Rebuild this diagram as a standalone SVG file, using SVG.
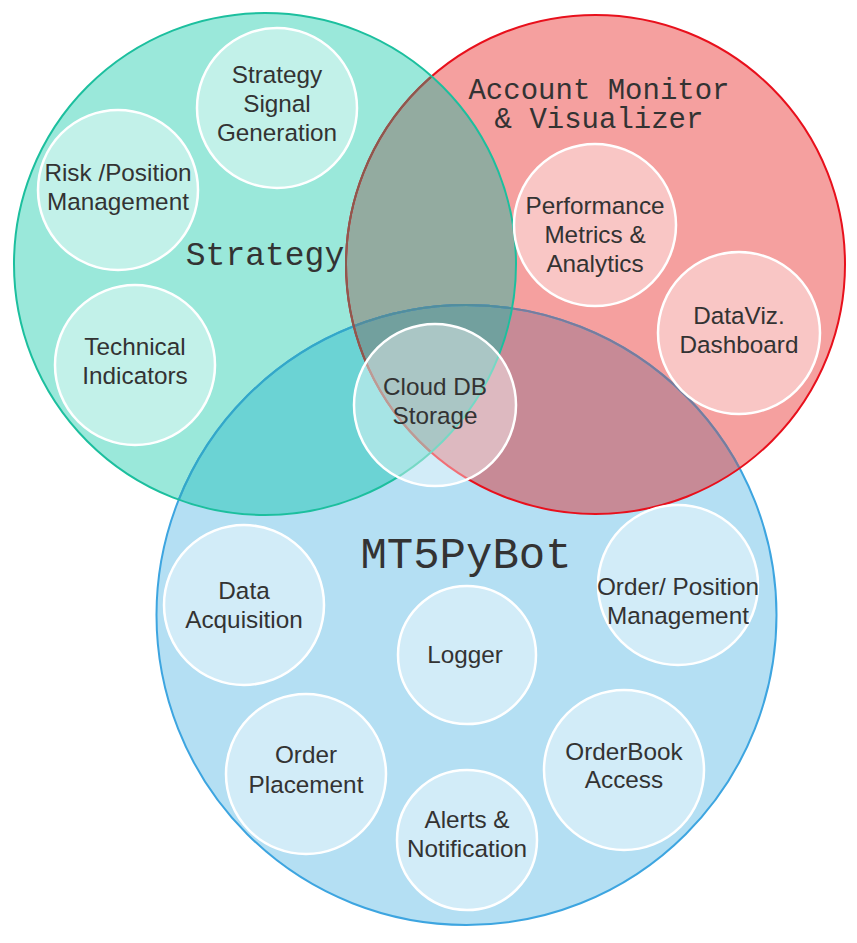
<svg xmlns="http://www.w3.org/2000/svg" width="857" height="943" viewBox="0 0 857 943">
<style>
.lbl{font-family:"Liberation Sans",Arial,sans-serif;font-size:24.3px;fill:#333333;text-anchor:middle}
.ttl{font-family:"Liberation Mono","Courier New",monospace;fill:#333333;text-anchor:middle}
.sub{fill:#ffffff;fill-opacity:0.4;stroke:#ffffff;stroke-width:2.5}
</style>
<defs>
<clipPath id="cT"><circle cx="265" cy="264" r="251"/></clipPath>
<clipPath id="cR"><circle cx="595.5" cy="264.5" r="249.5"/></clipPath>
<clipPath id="cB"><circle cx="466.5" cy="615" r="310"/></clipPath>
</defs>
<rect width="857" height="943" fill="#ffffff"/>
<g id="set-fills">
<circle cx="466.5" cy="615" r="310" fill="#b4dff3"/>
<circle cx="595.5" cy="264.5" r="249.5" fill="#f5a09f"/>
<circle cx="265" cy="264" r="251" fill="#9ae8da"/>
</g>
<g id="overlaps">
<circle cx="595.5" cy="264.5" r="249.5" fill="#c78a96" clip-path="url(#cB)"/>
<circle cx="265" cy="264" r="251" fill="#6bd3d4" clip-path="url(#cB)"/>
<circle cx="265" cy="264" r="251" fill="#93aba0" clip-path="url(#cR)"/>
<g clip-path="url(#cB)"><circle cx="265" cy="264" r="251" fill="#72a09e" clip-path="url(#cR)"/></g>
</g>
<g id="set-strokes" fill="none" stroke-width="2">
<circle cx="466.5" cy="615" r="310" stroke="#3da5e0"/>
<circle cx="466.5" cy="615" r="310" stroke="#33a8c8" clip-path="url(#cT)"/>
<circle cx="466.5" cy="615" r="310" stroke="#7a7b9b" clip-path="url(#cR)"/>
<g clip-path="url(#cT)"><circle cx="466.5" cy="615" r="310" stroke="#4f8f9e" clip-path="url(#cR)"/></g>
<circle cx="595.5" cy="264.5" r="249.5" stroke="#e8101c"/>
<circle cx="595.5" cy="264.5" r="249.5" stroke="#8b5a4f" clip-path="url(#cT)"/>
<circle cx="265" cy="264" r="251" stroke="#1cbf9e"/>
</g>
<g id="strategy">
<text class="ttl" x="265" y="265" font-size="33">Strategy</text>
</g>
<g id="account-monitor">
<text class="ttl" x="599" y="99" font-size="29">Account Monitor</text>
<text class="ttl" x="599" y="128" font-size="29">&amp; Visualizer</text>
</g>
<g id="mt5pybot">
<text class="ttl" x="466" y="568" font-size="44">MT5PyBot</text>
</g>
<g id="strategy-signal-generation">
<circle class="sub" cx="277" cy="108" r="80"/>
<text class="lbl" x="277" y="83">Strategy</text>
<text class="lbl" x="277" y="112">Signal</text>
<text class="lbl" x="277" y="141">Generation</text>
</g>
<g id="risk-position-management">
<circle class="sub" cx="118" cy="190" r="80"/>
<text class="lbl" x="118" y="181">Risk /Position</text>
<text class="lbl" x="118" y="210">Management</text>
</g>
<g id="technical-indicators">
<circle class="sub" cx="135" cy="365" r="80"/>
<text class="lbl" x="135" y="355">Technical</text>
<text class="lbl" x="135" y="384">Indicators</text>
</g>
<g id="performance-metrics">
<circle class="sub" cx="595" cy="225" r="81"/>
<text class="lbl" x="595" y="214">Performance</text>
<text class="lbl" x="595" y="243">Metrics &amp;</text>
<text class="lbl" x="595" y="272">Analytics</text>
</g>
<g id="dataviz-dashboard">
<circle class="sub" cx="739" cy="333" r="81"/>
<text class="lbl" x="739" y="324">DataViz.</text>
<text class="lbl" x="739" y="353">Dashboard</text>
</g>
<g id="cloud-db-storage">
<circle class="sub" cx="435" cy="405" r="81"/>
<text class="lbl" x="435" y="395">Cloud DB</text>
<text class="lbl" x="435" y="424">Storage</text>
</g>
<g id="data-acquisition">
<circle class="sub" cx="244" cy="605" r="80"/>
<text class="lbl" x="244" y="599">Data</text>
<text class="lbl" x="244" y="628">Acquisition</text>
</g>
<g id="logger">
<circle class="sub" cx="467" cy="655" r="69"/>
<text class="lbl" x="465" y="663">Logger</text>
</g>
<g id="order-position-management">
<circle class="sub" cx="678" cy="585" r="80"/>
<text class="lbl" x="678" y="595">Order/ Position</text>
<text class="lbl" x="678" y="624">Management</text>
</g>
<g id="order-placement">
<circle class="sub" cx="306" cy="774" r="80"/>
<text class="lbl" x="306" y="763">Order</text>
<text class="lbl" x="306" y="793">Placement</text>
</g>
<g id="alerts-notification">
<circle class="sub" cx="467" cy="840" r="70"/>
<text class="lbl" x="467" y="828">Alerts &amp;</text>
<text class="lbl" x="467" y="857">Notification</text>
</g>
<g id="orderbook-access">
<circle class="sub" cx="624" cy="770" r="80"/>
<text class="lbl" x="624" y="760">OrderBook</text>
<text class="lbl" x="624" y="788">Access</text>
</g>
<g id="connectors"></g>
</svg>
